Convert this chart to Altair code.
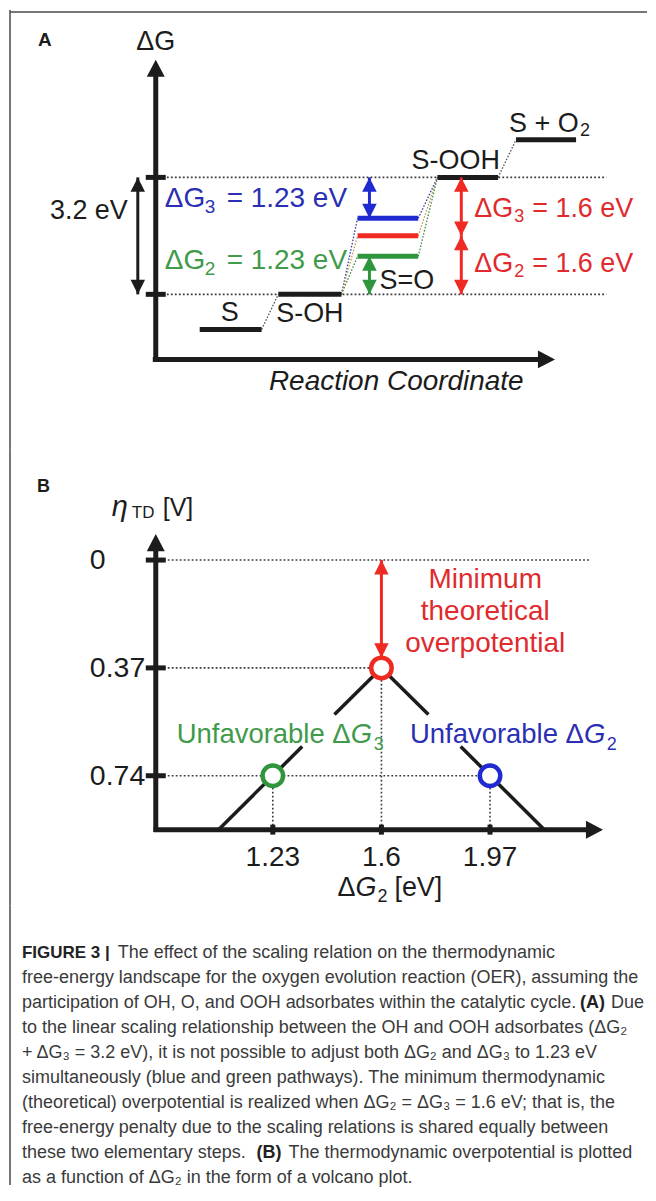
import altair as alt
import pandas as pd

FONT = "Liberation Sans"
INK = "#1c1c1c"
DOT = "#3a3a3a"
FRAME = "#4a4a4a"
BLUE, RED, GREEN = "#1f2bd0", "#ee2a22", "#2f963d"
BLUE_T, RED_T, GREEN_T = "#2b2fb3", "#e02a2e", "#3f9a4a"
PATH_COLOR = {"black": INK, "blue": BLUE, "red": RED, "green": GREEN}

W = 640
HA, HB, HC = 440, 457, 280

# ---------------- Panel A data (energies in eV relative to S) ----------------
LEVEL_NAME = ["S", "S-OH", "S=O", "S=O", "S=O", "S-OOH", "S + O2"]
LEVEL_PATH = ["black", "black", "blue", "red", "green", "black", "black"]
LEVEL_X0 = [0.00, 1.27, 2.55, 2.55, 2.55, 3.84, 5.11]
LEVEL_X1 = [1.00, 2.29, 3.53, 3.53, 3.53, 4.82, 6.08]
LEVEL_G = [0.00, 0.96, 3.04, 2.56, 2.00, 4.16, 5.19]
STEP_FROM = [0, 1, 1, 1, 2, 3, 4, 5]
STEP_TO = [1, 2, 3, 4, 5, 5, 5, 6]
ARROW_U = [-1.0, 2.742, 2.742, 4.226, 4.226]
ARROW_TOP = [5, 5, 4, 5, 3]
ARROW_BOT = [1, 2, 1, 3, 1]
ARROW_PATH = ["black", "blue", "green", "red", "red"]

# ---------------- Panel B data ----------------
ETA_TICKS = [0.0, 0.37, 0.74]
ETA_LABELS = ["0", "0.37", "0.74"]
G2_TICKS = [1.23, 1.6, 1.97]
G2_LABELS = ["1.23", "1.6", "1.97"]
CASE_G2 = [1.23, 1.6, 1.97]
CASE_ETA = [0.74, 0.37, 0.74]
CASE_PATH = ["green", "red", "blue"]
VOLC_SEG = ["l1", "l1", "l2", "l2", "r2", "r2", "r1", "r1"]
VOLC_G2 = [1.045, 1.33, 1.44, 1.60, 1.60, 1.76, 1.87, 2.155]
VOLC_ETA = [0.925, 0.64, 0.53, 0.37, 0.37, 0.53, 0.64, 0.925]

# ---------------- Caption ----------------
CAPTION = [
    "The effect of the scaling relation on the thermodynamic",
    "free-energy landscape for the oxygen evolution reaction (OER), assuming the",
    "participation of OH, O, and OOH adsorbates within the catalytic cycle.",
    "to the linear scaling relationship between the OH and OOH adsorbates (ΔG₂",
    "+ ΔG₃ = 3.2 eV), it is not possible to adjust both ΔG₂ and ΔG₃ to 1.23 eV",
    "simultaneously (blue and green pathways). The minimum thermodynamic",
    "(theoretical) overpotential is realized when ΔG₂ = ΔG₃ = 1.6 eV; that is, the",
    "free-energy penalty due to the scaling relations is shared equally between",
    "these two elementary steps.",
    "as a function of ΔG₂ in the form of a volcano plot.",
]

HEAD_UP = "M-1,2L1,2L0,0Z"
HEAD_DOWN = "M-1,-2L1,-2L0,0Z"
AXIS_UP = "M-1,1.9L1,1.9L0,0Z"
AXIS_RIGHT = "M-1.9,-1L-1.9,1L0,0Z"


def df(**cols):
    return pd.DataFrame(cols)


def frame_left(h):
    return alt.Chart(df(a=[0])).mark_rule(color=FRAME, strokeWidth=1.5).encode(
        x=alt.value(2), y=alt.value(0), y2=alt.value(h))


def lin_domain(v_at_0, per_px, npx):
    return [v_at_0, v_at_0 + per_px * npx]


# ======================= PANEL A =======================
# reaction coordinate: 62 px per level width; energy: 36.6 px per eV
XA = alt.Scale(domain=lin_domain(-192 / 62, 1 / 62, W), zero=False, nice=False)
YA = alt.Scale(domain=[(320 - HA) / 36.6, 320 / 36.6], zero=False, nice=False)


def ax(f):
    return alt.X(f"{f}:Q", scale=XA, axis=None)


def ay(f):
    return alt.Y(f"{f}:Q", scale=YA, axis=None)


AX_U, AX_E = -0.71, -0.82
lev = df(name=LEVEL_NAME, path=LEVEL_PATH, x0=LEVEL_X0, x1=LEVEL_X1, g=LEVEL_G)
lev["col"] = lev["path"].map(PATH_COLOR)

con = df(
    xa=[LEVEL_X1[i] for i in STEP_FROM], ga=[LEVEL_G[i] for i in STEP_FROM],
    xb=[LEVEL_X0[j] for j in STEP_TO], gb=[LEVEL_G[j] for j in STEP_TO],
    path=[LEVEL_PATH[i] if LEVEL_PATH[i] != "black" else LEVEL_PATH[j]
          for i, j in zip(STEP_FROM, STEP_TO)],
)
con["col"] = con["path"].map({"black": "#555555", "blue": "#3b3ba8", "red": "#b8a050", "green": "#4a8a4a"})

arr = df(u=ARROW_U, top=[LEVEL_G[i] for i in ARROW_TOP], bot=[LEVEL_G[i] for i in ARROW_BOT], path=ARROW_PATH)
arr["col"] = arr["path"].map(PATH_COLOR)
arr["mid"] = (arr["top"] + arr["bot"]) / 2

refA = df(g=[LEVEL_G[1], LEVEL_G[5]], u0=[-0.53, -0.53], u1=[6.57, 6.57], u=[AX_U, AX_U])
axisA = df(u=[AX_U], e=[AX_E], e0=[AX_E - 0.07], e1=[6.98], etip=[7.38], u0=[-0.758], u1=[5.49], utip=[5.74])

colscale = alt.Color("col:N", scale=None)

a_layers = [
    alt.Chart(df(a=[0])).mark_rule(color=FRAME, strokeWidth=1.5).encode(
        x=alt.value(2), x2=alt.value(W), y=alt.value(2)),
    frame_left(HA),
    alt.Chart(df(a=[0])).mark_text(text="A", font=FONT, fontSize=19, fontWeight="bold", color=INK).encode(
        x=alt.value(37), y=alt.value(30)),
    alt.Chart(refA).mark_rule(color=DOT, strokeWidth=1.6, strokeDash=[1.8, 2.2]).encode(
        x=ax("u0"), x2=alt.X2("u1:Q"), y=ay("g")),
    alt.Chart(axisA).mark_rule(color=INK, strokeWidth=5).encode(x=ax("u"), y=ay("e0"), y2=alt.Y2("e1:Q")),
    alt.Chart(axisA).mark_rule(color=INK, strokeWidth=5).encode(x=ax("u0"), x2=alt.X2("u1:Q"), y=ay("e")),
    alt.Chart(axisA).mark_point(shape=AXIS_UP, size=324, filled=True, color=INK, opacity=1, strokeWidth=0).encode(
        x=ax("u"), y=ay("etip")),
    alt.Chart(axisA).mark_point(shape=AXIS_RIGHT, size=324, filled=True, color=INK, opacity=1, strokeWidth=0).encode(
        x=ax("utip"), y=ay("e")),
    alt.Chart(refA).mark_tick(orient="horizontal", size=20, thickness=5, color=INK, opacity=1).encode(
        x=ax("u"), y=ay("g")),
    alt.Chart(con).mark_rule(strokeWidth=1.3, strokeDash=[1.6, 1.6]).encode(
        x=ax("xa"), y=ay("ga"), x2=alt.X2("xb:Q"), y2=alt.Y2("gb:Q"), color=colscale),
    alt.Chart(lev).mark_rule(strokeWidth=5).encode(x=ax("x0"), x2=alt.X2("x1:Q"), y=ay("g"), color=colscale),
    alt.Chart(arr).mark_rule(strokeWidth=3).encode(x=ax("u"), y=ay("top"), y2=alt.Y2("bot:Q"), color=colscale),
    alt.Chart(arr).mark_point(shape=HEAD_UP, size=210, filled=True, opacity=1, strokeWidth=0).encode(
        x=ax("u"), y=ay("top"), color=colscale),
    alt.Chart(arr).mark_point(shape=HEAD_DOWN, size=210, filled=True, opacity=1, strokeWidth=0).encode(
        x=ax("u"), y=ay("bot"), color=colscale),
]


def txtA(data, x, y, text, dx=0, dy=0, size=27, color=INK, align="center", style="normal", baseline="middle"):
    return alt.Chart(data).mark_text(text=text, dx=dx, dy=dy, fontSize=size, font=FONT, color=color,
                                     align=align, baseline=baseline, fontStyle=style).encode(x=ax(x), y=ay(y))


lvl = lambda i: lev.iloc[[i]].assign(c=lambda d: (d.x0 + d.x1) / 2)
a_layers += [
    txtA(axisA, "u", "etip", "ΔG", dy=-18),
    txtA(arr.iloc[[0]], "u", "mid", "3.2 eV", dx=-10, dy=-25, align="right"),
    txtA(lvl(0), "c", "g", "S", dx=-1, dy=-16),
    txtA(lvl(1), "c", "g", "S-OH", dy=20),
    txtA(lvl(4), "c", "g", "S=O", dx=19, dy=25),
    txtA(lvl(5), "c", "g", "S-OOH", dx=-12, dy=-16),
    txtA(lvl(6), "x0", "g", "S + O", dx=-7, dy=-16, align="left"),
    txtA(lvl(6), "x0", "g", "2", dx=64, dy=-9, align="left", size=18),
    txtA(axisA, "utip", "e", "Reaction Coordinate", dx=-159, dy=23, style="italic", size=28),
]
for (src, col, dy) in [(refA.iloc[[1]], BLUE_T, 22), (refA.iloc[[0]], GREEN_T, -33)]:
    sub = "3" if col == BLUE_T else "2"
    a_layers += [
        txtA(src, "u", "g", "ΔG", dx=9, dy=dy, align="left", color=col, size=28),
        txtA(src, "u", "g", sub, dx=49, dy=dy + 8, align="left", color=col, size=19),
        txtA(src, "u", "g", "= 1.23 eV", dx=71, dy=dy, align="left", color=col, size=28),
    ]
for (row, sub, dy) in [(3, "3", 32), (4, "2", -30)]:
    src = arr.iloc[[row]].assign(e=lambda d: d.top if sub == "3" else d.bot)
    a_layers += [
        txtA(src, "u", "e", "ΔG", dx=13, dy=dy, align="left", color=RED_T),
        txtA(src, "u", "e", sub, dx=53, dy=dy + 8, align="left", color=RED_T, size=18),
        txtA(src, "u", "e", "= 1.6 eV", dx=71, dy=dy, align="left", color=RED_T),
    ]

panelA = alt.layer(*a_layers).properties(width=W, height=HA)

# ======================= PANEL B =======================
# ΔG2: 294 px per eV (1.6 eV at x=382); η: 291.9 px per V (0 V at y=559)
B_TOP = 8 + HA
XB = alt.Scale(domain=lin_domain(1.6 - 374 / 294, 1 / 294, W), zero=False, nice=False)
YB = alt.Scale(domain=[(B_TOP - 559) / 291.9, (B_TOP + HB - 559) / 291.9], zero=False, nice=False, reverse=True)


def bx(f):
    return alt.X(f"{f}:Q", scale=XB, axis=None)


def by(f):
    return alt.Y(f"{f}:Q", scale=YB, axis=None)


G_AX, ETA_AX = 0.8313, 0.925
axisB = df(g=[G_AX], eta=[ETA_AX], e0=[ETA_AX + 0.008], e1=[-0.05], etip=[-0.089],
           g0=[0.824], g1=[2.30], gtip=[2.355])
ticksB = df(eta=ETA_TICKS, lab=ETA_LABELS, g=[G_AX] * 3,
            gend=[2.31, CASE_G2[1], CASE_G2[2]])
xticksB = df(g=G2_TICKS, lab=G2_LABELS, eta=[ETA_AX] * 3)
cases = df(g=CASE_G2, eta=CASE_ETA, path=CASE_PATH, base=[ETA_AX] * 3)
cases["col"] = cases["path"].map(PATH_COLOR)
volc = df(seg=VOLC_SEG, g=VOLC_G2, eta=VOLC_ETA)
volc_seg = volc.groupby("seg", sort=False).agg(g0=("g", "first"), g1=("g", "last"),
                                               e0=("eta", "first"), e1=("eta", "last")).reset_index()
red_arrow = df(g=[CASE_G2[1]], top=[ETA_TICKS[0]], bot=[CASE_ETA[1] - 0.035])


def txtB(data, x, y, text, dx=0, dy=0, size=28, color=INK, align="center", style="normal", baseline="middle"):
    return alt.Chart(data).mark_text(text=text, dx=dx, dy=dy, fontSize=size, font=FONT, color=color,
                                     align=align, baseline=baseline, fontStyle=style).encode(x=bx(x), y=by(y))


b_layers = [
    frame_left(HB),
    alt.Chart(df(a=[0])).mark_text(text="B", font=FONT, fontSize=18, fontWeight="bold", color=INK).encode(
        x=alt.value(35.5), y=alt.value(486 - B_TOP)),
    alt.Chart(ticksB).mark_rule(color=DOT, strokeWidth=1.6, strokeDash=[1.8, 2.2]).encode(
        x=bx("g"), x2=alt.X2("gend:Q"), y=by("eta")),
    alt.Chart(cases).mark_rule(color=DOT, strokeWidth=1.6, strokeDash=[1.8, 2.2]).encode(
        x=bx("g"), y=by("eta"), y2=alt.Y2("base:Q")),
    alt.Chart(volc_seg).mark_rule(color=INK, strokeWidth=3.5).encode(
        x=bx("g0"), y=by("e0"), x2=alt.X2("g1:Q"), y2=alt.Y2("e1:Q")),
    alt.Chart(axisB).mark_rule(color=INK, strokeWidth=5).encode(x=bx("g"), y=by("e0"), y2=alt.Y2("e1:Q")),
    alt.Chart(axisB).mark_rule(color=INK, strokeWidth=5).encode(x=bx("g0"), x2=alt.X2("g1:Q"), y=by("eta")),
    alt.Chart(axisB).mark_point(shape=AXIS_UP, size=324, filled=True, color=INK, opacity=1, strokeWidth=0).encode(
        x=bx("g"), y=by("etip")),
    alt.Chart(axisB).mark_point(shape=AXIS_RIGHT, size=324, filled=True, color=INK, opacity=1, strokeWidth=0).encode(
        x=bx("gtip"), y=by("eta")),
    alt.Chart(ticksB).mark_tick(orient="horizontal", size=20, thickness=5, color=INK, opacity=1).encode(
        x=bx("g"), y=by("eta")),
    alt.Chart(xticksB).mark_tick(orient="vertical", size=10, thickness=5, color=INK, opacity=1).encode(
        x=bx("g"), y=by("eta")),
    alt.Chart(red_arrow).mark_rule(color=RED, strokeWidth=3).encode(x=bx("g"), y=by("top"), y2=alt.Y2("bot:Q")),
    alt.Chart(red_arrow).mark_point(shape=HEAD_UP, size=210, filled=True, color=RED, opacity=1, strokeWidth=0).encode(
        x=bx("g"), y=by("top")),
    alt.Chart(red_arrow).mark_point(shape=HEAD_DOWN, size=210, filled=True, color=RED, opacity=1, strokeWidth=0).encode(
        x=bx("g"), y=by("bot")),
    alt.Chart(cases).mark_point(shape="circle", size=420, filled=True, fill="white", strokeWidth=4.5, opacity=1).encode(
        x=bx("g"), y=by("eta"), stroke=alt.Stroke("col:N", scale=None)),
    alt.Chart(ticksB).mark_text(align="left", baseline="middle", dx=-66, font=FONT, fontSize=28.5, color=INK).encode(
        x=bx("g"), y=by("eta"), text="lab:N"),
    alt.Chart(xticksB).mark_text(align="center", baseline="middle", dy=28, font=FONT, fontSize=28, color=INK).encode(
        x=bx("g"), y=by("eta"), text="lab:N"),
    txtB(axisB, "g", "etip", "η", dx=-44, dy=-18, align="left", style="italic", size=29, baseline="alphabetic"),
    txtB(axisB, "g", "etip", "TD", dx=-24, dy=-16, align="left", size=17, baseline="alphabetic"),
    txtB(axisB, "g", "etip", "[V]", dx=7, dy=-18, align="left", size=25, baseline="alphabetic"),
    alt.Chart(red_arrow).mark_text(text=["Minimum", "theoretical", "overpotential"], dx=104, dy=28, lineHeight=32,
                                   align="center", baseline="alphabetic", font=FONT, fontSize=28, color=RED_T).encode(
        x=bx("g"), y=by("top")),
]
for (i, col, sub) in [(0, GREEN_T, "3"), (2, BLUE_T, "2")]:
    src = cases.iloc[[i]]
    gx = 78 if i == 0 else 94
    b_layers += [
        txtB(src, "g", "eta", "Unfavorable Δ", dx=gx, dy=-33, align="right", color=col, size=27.5, baseline="alphabetic"),
        txtB(src, "g", "eta", "G", dx=gx, dy=-33, align="left", color=col, size=27.5, style="italic", baseline="alphabetic"),
        txtB(src, "g", "eta", sub, dx=gx + 23, dy=-26, align="left", color=col, size=18, baseline="alphabetic"),
    ]
b_layers += [
    txtB(xticksB.iloc[[1]], "g", "eta", "Δ", dx=-26, dy=66, align="right", size=27, baseline="alphabetic"),
    txtB(xticksB.iloc[[1]], "g", "eta", "G", dx=-26, dy=66, align="left", size=27, style="italic", baseline="alphabetic"),
    txtB(xticksB.iloc[[1]], "g", "eta", "2", dx=-4, dy=72, align="left", size=18, baseline="alphabetic"),
    txtB(xticksB.iloc[[1]], "g", "eta", "[eV]", dx=13, dy=66, align="left", size=27, baseline="alphabetic"),
]

panelB = alt.layer(*b_layers).properties(width=W, height=HB)

# ======================= CAPTION =======================
C_TOP = B_TOP + HB
LINE0, LINE_STEP = 952.5, 25.1
YC = alt.Scale(domain=[(C_TOP - LINE0) / LINE_STEP, (C_TOP + HC - LINE0) / LINE_STEP],
               zero=False, nice=False, reverse=True)
CAP_SIZE = 18.0
CAP_COLOR = "#3a3a3a"


def cap_run(line, text, sx, bold=False, size=CAP_SIZE):
    return alt.Chart(df(line=[line])).mark_text(
        text=text, align="left", baseline="middle", font=FONT, fontSize=size,
        fontWeight="bold" if bold else "normal", color="#222222" if bold else CAP_COLOR,
    ).encode(x=alt.value(sx - 8), y=alt.Y("line:Q", scale=YC, axis=None))


c_layers = [frame_left(HC), cap_run(0, "FIGURE 3 |", 22, bold=True, size=17), cap_run(0, CAPTION[0], 118)]
for i in range(1, 10):
    c_layers.append(cap_run(i, CAPTION[i], 22))
c_layers += [
    cap_run(2, "(A)", 581, bold=True), cap_run(2, "Due", 612),
    cap_run(8, "(B)", 257, bold=True), cap_run(8, "The thermodynamic overpotential is plotted", 289),
]
panelC = alt.layer(*c_layers).properties(width=W, height=HC)

chart = alt.vconcat(panelA, panelB, panelC, spacing=0, bounds="flush").properties(
    padding=0, background="white").configure_view(stroke=None)

chart.save("out.html", embed_options={"renderer": "svg", "actions": False})
